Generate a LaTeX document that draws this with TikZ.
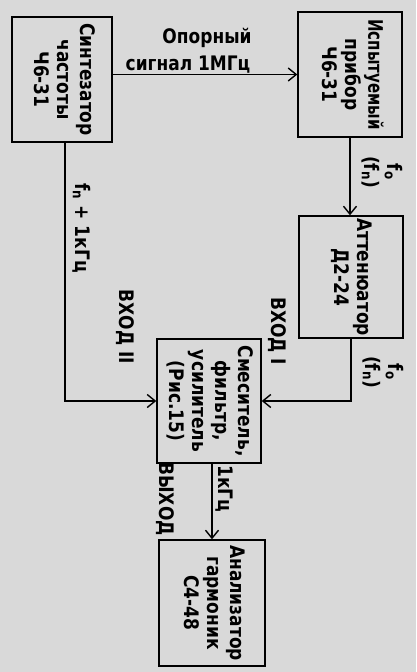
\documentclass[tikz,border=0pt]{standalone}
\usepackage{fontspec}
\setmainfont{DejaVu Sans}[FakeStretch=0.85]
\usepackage{graphicx}
\usetikzlibrary{arrows.meta}
\newcommand{\rotlines}[1]{\rotatebox{-90}{\begin{tabular}{@{}c@{}}#1\end{tabular}}}
\begin{document}
\begin{tikzpicture}[x=1pt,y=-1pt,
  txt/.style={font=\fontsize{20}{23}\selectfont\bfseries},
  box/.style={draw, line width=1.4pt, inner sep=0pt, txt},
  lbl/.style={inner sep=0pt, txt},
  conn/.style={line width=1.4pt, -{Straight Barb[length=8pt,width=13pt,line width=1.4pt]}}]
\fill[black!15] (0,0) rectangle (416,672);
\useasboundingbox (0,0) rectangle (416,672);

% boxes
\node[box, minimum width=100pt, minimum height=125pt] (synth) at (62,79.5)
  {\rotlines{Синтезатор\\частоты\\Ч6-31}};
\node[box, minimum width=104pt, minimum height=125pt] (dut) at (350,74.5)
  {\rotlines{\scalebox{0.88}[1]{Испытуемый}\\прибор\\Ч6-31}};
\node[box, minimum width=104pt, minimum height=122pt] (att) at (351,277)
  {\rotlines{Аттенюатор\\Д2-24}};
\node[box, minimum width=104pt, minimum height=124pt] (mixer) at (209,401)
  {\rotlines{Смеситель,\\фильтр,\\усилитель\\(Рис.15)}};
\node[box, minimum width=106pt, minimum height=126pt] (anal) at (212,603)
  {\rotlines{Анализатор\\гармоник\\С4-48}};

% labels
\node[lbl] (opor) at (207,38) {Опорный};
\node[lbl] (sig) at (188,65) {сигнал 1МГц};
\node[lbl] (f1) at (381,172) {\rotlines{f\textsubscript{o}\\(f\textsubscript{n})}};
\node[lbl] (f2) at (382,372) {\rotlines{f\textsubscript{o}\\(f\textsubscript{n})}};
\node[lbl] (fn1k) at (82,228) {\rotatebox{-90}{f\textsubscript{n} + 1кГц}};
\node[lbl] (in2) at (125,327) {\rotatebox{-90}{ВХОД II}};
\node[lbl] (in1) at (277,331) {\rotatebox{-90}{ВХОД I}};
\node[lbl] (k1) at (224,489) {\rotatebox{-90}{1кГц}};
\node[lbl] (out) at (165,499) {\rotatebox{-90}{ВЫХОД}};

% connectors
\draw[conn] (synth.east |- dut.west) -- (dut.west);
\draw[conn] (dut.south) -- (dut.south |- att.north);
\draw[conn] (att.south) |- (mixer.east);
\draw[conn] ([xshift=3pt]synth.south) |- (mixer.west);
\draw[conn] ([xshift=3pt]mixer.south) -- ([xshift=3pt]mixer.south |- anal.north);
\end{tikzpicture}
\end{document}
